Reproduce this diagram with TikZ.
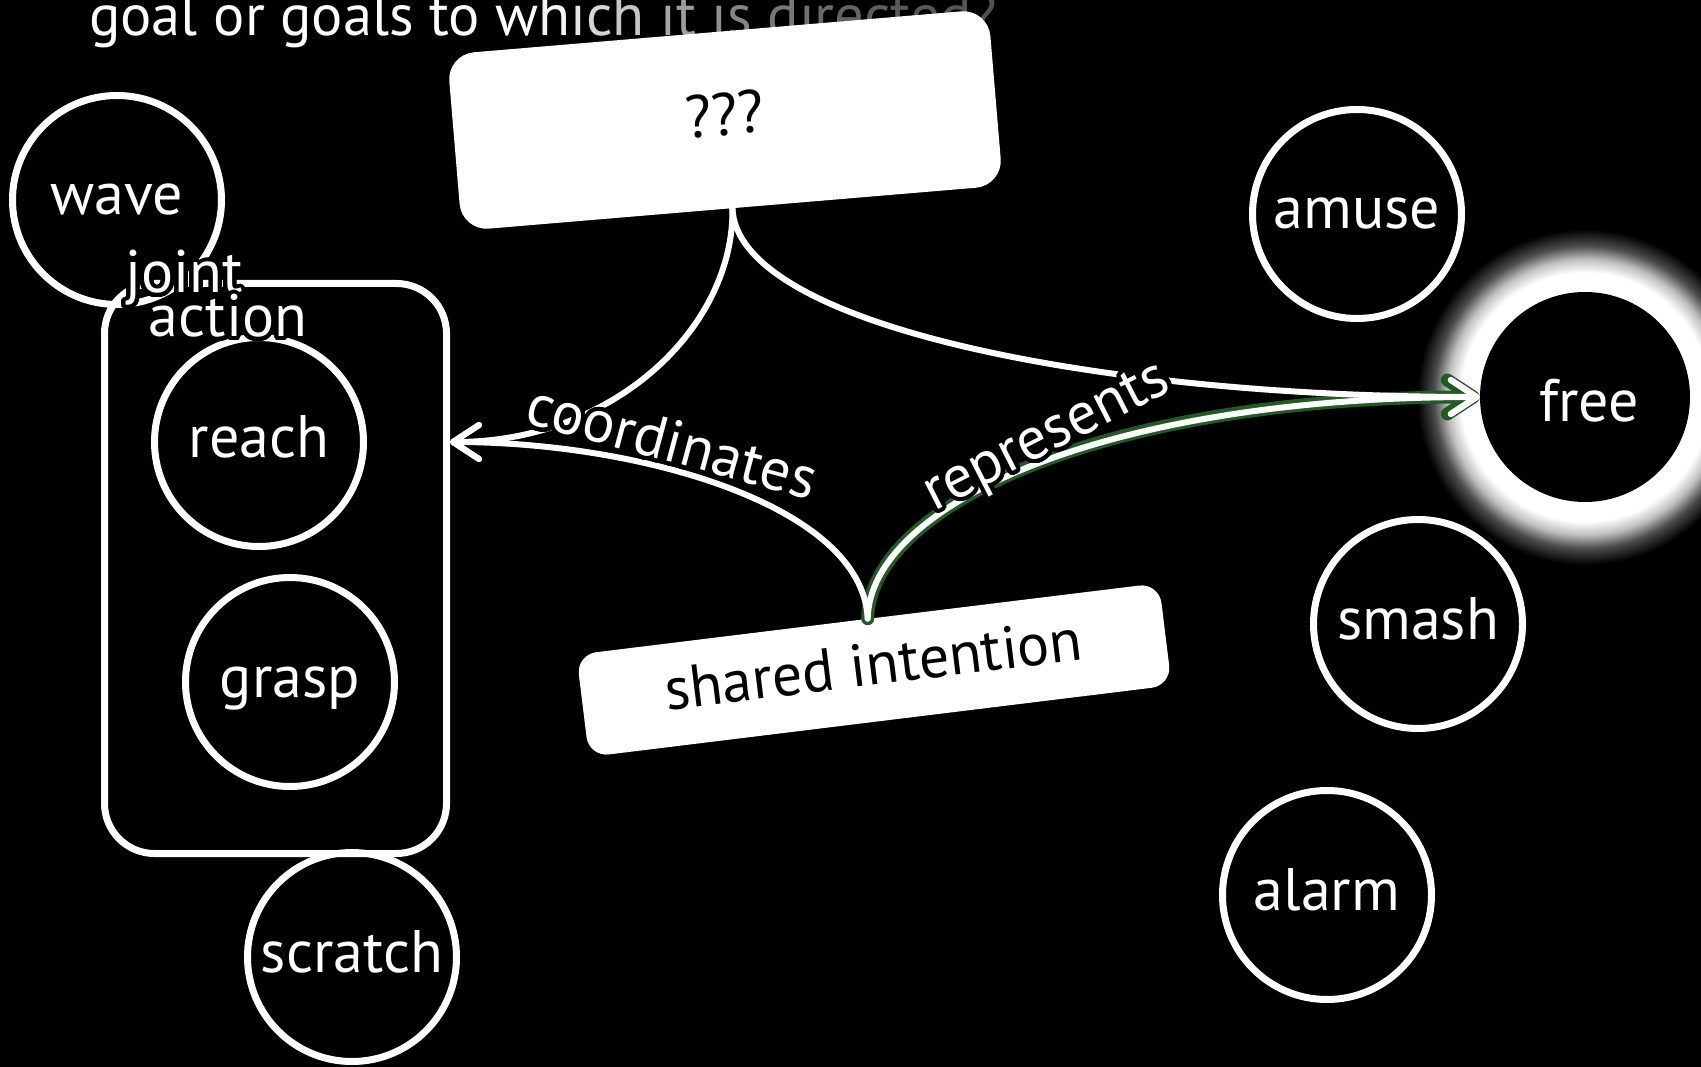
\documentclass[tikz,border=0pt]{standalone}
\usepackage{fontspec}
\setmainfont{PT Sans}
\usepackage{contour}
\contourlength{4pt}
\contournumber{48}
\usetikzlibrary{arrows.meta}
\pgfdeclareradialshading{freeglow}{\pgfpointorigin}{color(0bp)=(white); color(18.5bp)=(white); color(20.5bp)=(white!75!black); color(22.5bp)=(white!30!black); color(25bp)=(black); color(50bp)=(black)}
\definecolor{glowgreen}{RGB}{35,90,35}
\newcommand\tgr[2]{\textcolor[gray]{#1}{#2}}
\tikzset{
 bigfont/.style={font=\fontsize{60}{66}\selectfont},
 bub/.style={circle, draw=white, line width=7pt, minimum size=209pt, inner sep=0pt, text=white, bigfont, text height=30pt, text depth=0pt},
 card/.style={fill=white, text=black, bigfont, inner sep=0pt, text height=30pt, text depth=0pt},
 tipstyle/.style={-{Straight Barb[length=26pt,width=34pt,line cap=round,line join=round]}},
 conn/.style={draw=white, line width=6pt, line cap=round, tipstyle},
 connglow/.style={draw=glowgreen, line width=13pt, line cap=round, tipstyle},
 lbl/.style={text=white, bigfont, inner sep=0pt},
}
\begin{document}
\begin{tikzpicture}[x=1pt,y=-1pt]
\fill[black] (0,0) rectangle (1701,1067);
\useasboundingbox (0,0) rectangle (1701,1067);
\clip (0,0) rectangle (1701,1067);

% title (cut at top)
\node[anchor=base west, font=\fontsize{58.5}{64}\selectfont, inner sep=0pt, text=white] (title) at (89,36)
 {goal or goals to w\tgr{0.96}{h}\tgr{0.9}{i}\tgr{0.84}{c}\tgr{0.78}{h} \tgr{0.66}{i}\tgr{0.62}{t} \tgr{0.56}{i}\tgr{0.52}{s} \tgr{0.47}{d}\tgr{0.44}{i}\tgr{0.41}{r}\tgr{0.39}{e}\tgr{0.37}{c}\tgr{0.35}{t}\tgr{0.34}{e}\tgr{0.33}{d}\tgr{0.32}{?}};

% white cards
\node[card, rotate=4.8, minimum width=543pt, minimum height=177pt, rounded corners=27pt] (Q) at (725,120) {???};
\node[card, rotate=7, minimum width=587pt, minimum height=103pt, rounded corners=20pt] (SI) at (874,670) {shared intention};

% glow behind free
\coordinate (freec) at (1585,397);
\shade[shading=freeglow] (freec) circle (168pt);

% circles
\node[bub] (wave) at (117,200) {wave};
\node[draw=white, line width=7pt, rounded corners=50pt, minimum width=342pt, minimum height=570pt, inner sep=0pt] (jbox) at (275.5,568.5) {};
\node[bub] (reach) at (259,442) {reach};
\node[bub] (grasp) at (290,682) {grasp};
\node[bub] (scratch) at (352,957) {scratch};
\node[bub] (amuse) at (1357,214) {amuse};
\node[bub] (smash) at (1418,624) {smash};
\node[bub] (alarm) at (1327,895) {alarm};
\node[circle, fill=black, minimum size=210pt, inner sep=0pt, text=white, bigfont, text height=48pt, text depth=0pt] (free) at (freec) {\hspace*{8pt}free};

\coordinate (jtip) at (jbox.east |- reach.center);

% connectors
\draw[connglow] (SI.north) .. controls +(2,-113) and +(-377,0) .. (free.west);
\draw[conn] (Q.south) .. controls +(2,118) and +(165,0) .. (jtip);
\draw[conn] (SI.north) .. controls +(-5,-113) and +(190,0) .. (jtip);
\draw[conn] (Q.south) .. controls +(5,118) and +(-377,0) .. (free.west);
\draw[conn] (SI.north) .. controls +(2,-113) and +(-377,0) .. (free.west);

% labels with black halo
\node[lbl, rotate=-15] (coordlbl) at (672,443) {\contour{black}{coordinates}};
\node[lbl, rotate=27] (replbl) at (1049,441) {\contour{black}{represents}};
\node[lbl, anchor=base] (jointlbl) at (184,293) {\contour{black}{joint}};
\node[lbl, anchor=base] (actionlbl) at (228,337) {\contour{black}{action}};
\end{tikzpicture}
\end{document}
